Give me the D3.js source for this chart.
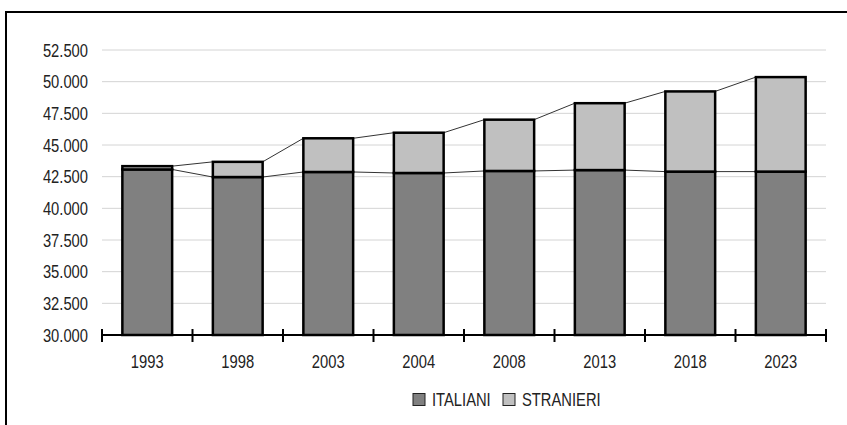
<!DOCTYPE html>
<html lang="it">
<head>
<meta charset="utf-8">
<title>Italiani e stranieri</title>
<script src="https://d3js.org/d3.v7.min.js"></script>
<style>
  body { margin: 0; background: #fff; }
  svg text { font-family: "Liberation Sans", Arial, sans-serif; font-size: 18px; fill: #222; }
</style>
</head>
<body>
<script>
// dati
var anni = ["1993", "1998", "2003", "2004", "2008", "2013", "2018", "2023"];
var italiani = [43070, 42470, 42870, 42790, 42950, 43020, 42900, 42900];
var stranieri = [260, 1200, 2660, 3180, 4050, 5280, 6330, 7460];
var yTicks = [30000, 32500, 35000, 37500, 40000, 42500, 45000, 47500, 50000, 52500];
var serieNomi = ["ITALIANI", "STRANIERI"];
var colori = ["#808080", "#c0c0c0"];

var W = 847, H = 425;
var svg = d3.select("body").append("svg").attr("width", W).attr("height", H);

// testo "stretto" (tipo Arial Narrow): Liberation Sans compressa in orizzontale
function testo(g, px, py, anchor, s) {
  return g.append("text")
    .attr("transform", "translate(" + px + "," + py + ") scale(0.82,1)")
    .attr("text-anchor", anchor)
    .text(s);
}

// cornice (tagliata a destra e in basso)
svg.append("rect")
  .attr("x", 6).attr("y", 12).attr("width", W + 20).attr("height", H + 20)
  .attr("fill", "none").attr("stroke", "#000").attr("stroke-width", 2);

var x = d3.scaleBand().domain(anni).range([102, 826]).paddingInner(0.45).paddingOuter(0.225);
var y = d3.scaleLinear().domain([30000, 52500]).range([335, 50]);

var loc = d3.formatLocale({ decimal: ",", thousands: ".", grouping: [3], currency: ["", ""] });
var fmt = loc.format(",");

// griglia
svg.append("g").selectAll("line").data(yTicks.slice(1)).enter().append("line")
  .attr("x1", 102).attr("x2", 826)
  .attr("y1", function(d) { return y(d); }).attr("y2", function(d) { return y(d); })
  .attr("stroke", "#d4d4d4").attr("stroke-width", 1);

// etichette asse y
var gy = svg.append("g");
yTicks.forEach(function(d) { testo(gy, 88, y(d) + 6.5, "end", fmt(d)); });

// dati impilati
var righe = anni.map(function(a, i) { return { anno: a, ITALIANI: italiani[i], STRANIERI: stranieri[i] }; });
var stack = d3.stack().keys(serieNomi)(righe);
var base = y.domain()[0];

// linee di serie
var bw = x.bandwidth();
stack.forEach(function(s) {
  for (var i = 0; i < anni.length - 1; i++) {
    svg.append("line")
      .attr("x1", x(anni[i]) + bw).attr("y1", y(s[i][1]))
      .attr("x2", x(anni[i + 1])).attr("y2", y(s[i + 1][1]))
      .attr("stroke", "#333").attr("stroke-width", 1);
  }
});

// barre
svg.append("g").selectAll("g").data(stack).enter().append("g")
  .attr("fill", function(d, i) { return colori[i]; })
  .selectAll("rect").data(function(d) { return d; }).enter().append("rect")
  .attr("x", function(d) { return x(d.data.anno); })
  .attr("width", bw)
  .attr("y", function(d) { return y(d[1]); })
  .attr("height", function(d) { return y(Math.max(d[0], base)) - y(d[1]); })
  .attr("stroke", "#000").attr("stroke-width", 2.5);

// asse x
svg.append("line").attr("x1", 102).attr("x2", 826).attr("y1", 335).attr("y2", 335)
  .attr("stroke", "#000").attr("stroke-width", 2);
var bordi = anni.map(function(a) { return x(a) - x.step() * x.paddingInner() / 2; });
bordi.push(826);
svg.append("g").selectAll("line").data(bordi).enter().append("line")
  .attr("x1", function(d) { return d; }).attr("x2", function(d) { return d; })
  .attr("y1", 329).attr("y2", 342)
  .attr("stroke", "#000").attr("stroke-width", 2);
var gx = svg.append("g");
anni.forEach(function(a) { testo(gx, x(a) + bw / 2, 368, "middle", a); });

// legenda
var leg = svg.append("g");
var legX = [413, 503];
serieNomi.forEach(function(n, i) {
  leg.append("rect").attr("x", legX[i]).attr("y", 393.5).attr("width", 12).attr("height", 12)
    .attr("fill", colori[i]).attr("stroke", "#222").attr("stroke-width", 1);
  testo(leg, legX[i] + 19, 406, "start", n);
});
</script>
</body>
</html>
